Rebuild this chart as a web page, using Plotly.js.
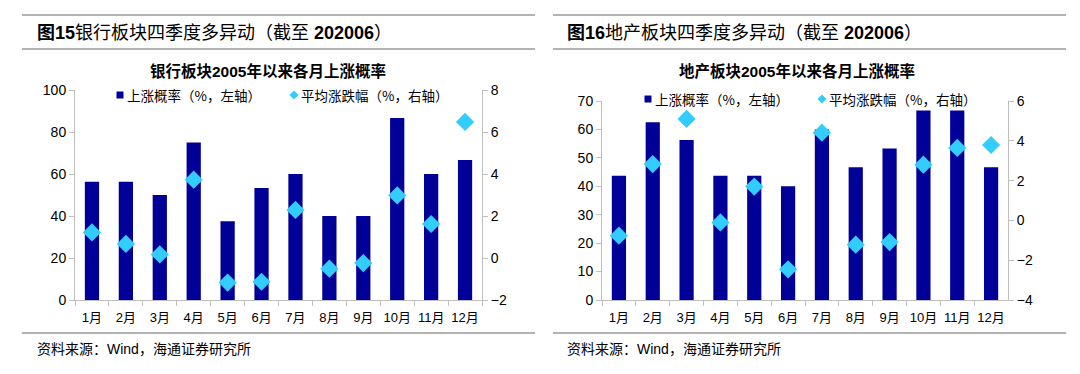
<!DOCTYPE html>
<html>
<head>
<meta charset="utf-8">
<script src="https://cdn.plot.ly/plotly-3.0.1.min.js"></script>
<style>html,body{margin:0;padding:0;background:#fff;}#chart{width:1080px;height:374px;}</style>
</head>
<body>
<div id="chart"></div>
<script>
const months = ["1月","2月","3月","4月","5月","6月","7月","8月","9月","10月","11月","12月"];
// 图15 银行板块
const bankUpProb = [56.3, 56.3, 50.0, 75.0, 37.5, 53.3, 60.0, 40.0, 40.0, 86.7, 60.0, 66.7];
const bankAvgChg = [1.22, 0.67, 0.17, 3.73, -1.17, -1.13, 2.29, -0.51, -0.24, 2.98, 1.62, 6.48];
// 图16 地产板块
const realtyUpProb = [43.75, 62.5, 56.25, 43.75, 43.75, 40.0, 60.0, 46.7, 53.3, 66.7, 66.7, 46.7];
const realtyAvgChg = [-0.77, 2.83, 5.1, -0.1, 1.7, -2.46, 4.41, -1.22, -1.09, 2.8, 3.64, 3.79];

const legendBar = "上涨概率（%，左轴）";
const legendDot = "平均涨跌幅（%，右轴）";
const titles = ["<b>图15</b>银行板块四季度多异动（截至 <b>202006</b>）", "<b>图16</b>地产板块四季度多异动（截至 <b>202006</b>）"];
const subtitles = ["<b>银行板块2005年以来各月上涨概率</b>", "<b>地产板块2005年以来各月上涨概率</b>"];
const sourceText = "资料来源：Wind，海通证券研究所";

const W = 1080, H = 374;
const px = x => x / W;
const py = y => 1 - y / H;

const BAR = "#000099", DOT = "#33CCFF";
const FONT = "Liberation Sans, Arial, Noto Sans CJK SC, sans-serif";
const CJK = "Noto Sans CJK SC, sans-serif";

const traces = [
  {type:"bar", x:months, y:bankUpProb, xaxis:"x", yaxis:"y", marker:{color:BAR}, width:0.42, showlegend:false},
  {type:"scatter", mode:"markers", x:months, y:bankAvgChg, xaxis:"x", yaxis:"y2", marker:{symbol:"diamond", size:14, color:DOT}, showlegend:false},
  {type:"bar", x:months, y:realtyUpProb, xaxis:"x2", yaxis:"y3", marker:{color:BAR}, width:0.42, showlegend:false},
  {type:"scatter", mode:"markers", x:months, y:realtyAvgChg, xaxis:"x2", yaxis:"y4", marker:{symbol:"diamond", size:14, color:DOT}, showlegend:false}
];

const axCol = "#bfbfbf";
const xBase = {type:"category", range:[-0.5, months.length - 0.5], autorange:false, showline:true, linecolor:axCol, linewidth:1, ticks:"outside", tickson:"boundaries", ticklen:5, tickcolor:axCol, showgrid:false, zeroline:false, tickangle:0, ticklabelstandoff:5, tickfont:{family:FONT, size:13, color:"#000"}, fixedrange:true};
const yBase = {showline:true, linecolor:axCol, linewidth:1, ticks:"outside", ticklen:5, tickcolor:axCol, showgrid:false, zeroline:false, tickfont:{family:FONT, size:14, color:"#000"}, fixedrange:true};

const layout = {
  width:W, height:H, margin:{l:0,r:0,t:0,b:0}, paper_bgcolor:"#fff", plot_bgcolor:"rgba(0,0,0,0)",
  showlegend:false, barmode:"overlay",
  xaxis: Object.assign({}, xBase, {domain:[px(75), px(482)], anchor:"y"}),
  yaxis: Object.assign({}, yBase, {domain:[py(300), py(90)], range:[0,100], dtick:20, anchor:"x"}),
  yaxis2: Object.assign({}, yBase, {overlaying:"y", side:"right", anchor:"x", range:[-2,8], dtick:2}),
  xaxis2: Object.assign({}, xBase, {domain:[px(602), px(1008)], anchor:"y3"}),
  yaxis3: Object.assign({}, yBase, {domain:[py(300), py(101)], range:[0,70], dtick:10, anchor:"x2"}),
  yaxis4: Object.assign({}, yBase, {overlaying:"y3", side:"right", anchor:"x2", range:[-4,6], dtick:2}),
  shapes: [],
  annotations: []
};

const lineCol = "#9a9a9a";
function hline(x0, x1, y) {
  layout.shapes.push({type:"line", xref:"paper", yref:"paper", x0:px(x0), x1:px(x1), y0:py(y), y1:py(y), line:{color:lineCol, width:1.5}});
}
function text(t, x, y, size, anchor, fam) {
  layout.annotations.push({text:t, xref:"paper", yref:"paper", x:px(x), y:py(y), xanchor:anchor||"left", yanchor:"middle", showarrow:false, font:{family:fam||CJK, size:size, color:"#000"}});
}
function squareGlyph(cx, cy) {
  layout.shapes.push({type:"rect", xref:"paper", yref:"paper", x0:px(cx-3.5), x1:px(cx+3.5), y0:py(cy+3.5), y1:py(cy-3.5), fillcolor:BAR, line:{width:0}});
}
function diamondGlyph(cx, cy) {
  const r = 4.5;
  layout.shapes.push({type:"path", xref:"paper", yref:"paper",
    path:`M ${px(cx)} ${py(cy-r)} L ${px(cx+r)} ${py(cy)} L ${px(cx)} ${py(cy+r)} L ${px(cx-r)} ${py(cy)} Z`,
    fillcolor:DOT, line:{width:0}});
}

const panels = [
  {x0:22, x1:535, tx:35, sub:268, lgSq:120, lgDi:294, lgY:95},
  {x0:553, x1:1066, tx:565, sub:797, lgSq:648, lgDi:822, lgY:99}
];
panels.forEach((p, i) => {
  hline(p.x0, p.x1, 15);
  hline(p.x0, p.x1, 49);
  hline(p.x0, p.x1, 333);
  text(titles[i], p.tx, 32.5, 18, "left", FONT);
  text(subtitles[i], p.sub, 71, 15.5, "center", FONT);
  text(sourceText, p.tx, 349, 14, "left", FONT);
  squareGlyph(p.lgSq, p.lgY);
  text(legendBar, p.lgSq + 5, p.lgY, 13.5, "left", CJK);
  diamondGlyph(p.lgDi, p.lgY);
  text(legendDot, p.lgDi + 5, p.lgY, 13.5, "left", CJK);
});

Plotly.newPlot("chart", traces, layout, {staticPlot:true, displayModeBar:false});
</script>
</body>
</html>
